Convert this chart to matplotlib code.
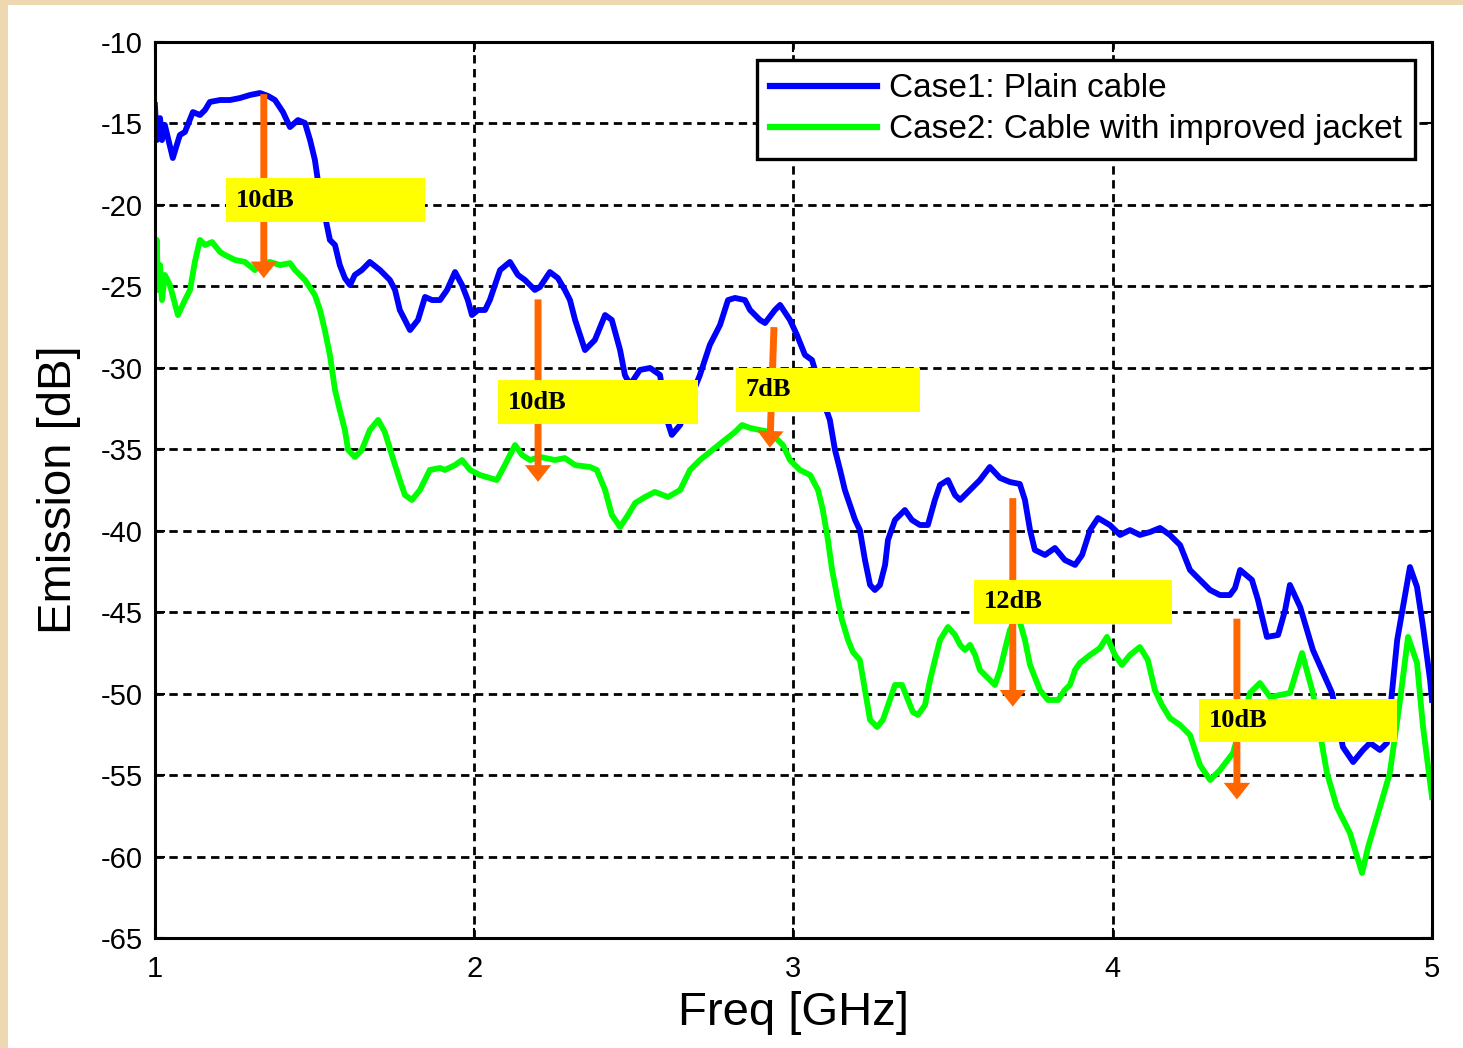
import matplotlib
matplotlib.use("Agg")
import matplotlib.pyplot as plt
from matplotlib.patches import Rectangle

# Case 1: plain cable
freq_plain = [1.000, 1.006, 1.016, 1.022, 1.031, 1.056, 1.078, 1.094, 1.119, 1.141,
              1.157, 1.172, 1.204, 1.235, 1.266, 1.298, 1.329, 1.354, 1.376, 1.401,
              1.423, 1.448, 1.470, 1.486, 1.501, 1.517, 1.532, 1.548, 1.564, 1.579,
              1.595, 1.611, 1.626, 1.648, 1.673, 1.705, 1.736, 1.752, 1.767, 1.799,
              1.824, 1.846, 1.868, 1.893, 1.915, 1.940, 1.962, 1.980, 1.993, 2.012,
              2.034, 2.049, 2.065, 2.081, 2.112, 2.137, 2.159, 2.190, 2.206, 2.237,
              2.262, 2.284, 2.300, 2.316, 2.347, 2.378, 2.410, 2.431, 2.457, 2.472,
              2.488, 2.519, 2.551, 2.582, 2.604, 2.619, 2.645, 2.676, 2.707, 2.738,
              2.770, 2.795, 2.817, 2.848, 2.864, 2.895, 2.911, 2.942, 2.958, 2.989,
              3.011, 3.036, 3.058, 3.077, 3.092, 3.114, 3.130, 3.146, 3.161, 3.177,
              3.193, 3.208, 3.224, 3.240, 3.255, 3.271, 3.287, 3.296, 3.318, 3.349,
              3.371, 3.396, 3.421, 3.443, 3.459, 3.484, 3.506, 3.522, 3.553, 3.584,
              3.615, 3.647, 3.678, 3.709, 3.725, 3.741, 3.756, 3.788, 3.819, 3.850,
              3.882, 3.904, 3.929, 3.954, 3.991, 4.023, 4.054, 4.085, 4.117, 4.148,
              4.179, 4.211, 4.242, 4.273, 4.305, 4.336, 4.367, 4.383, 4.399, 4.436,
              4.455, 4.483, 4.518, 4.540, 4.555, 4.587, 4.627, 4.659, 4.687, 4.721,
              4.753, 4.784, 4.806, 4.837, 4.859, 4.891, 4.922, 4.931, 4.953, 4.972,
              4.994, 5.000]
emis_plain = [-13.87, -16.02, -14.67, -16.02, -15.09, -17.12, -15.71, -15.52, -14.30, -14.48,
              -14.17, -13.68, -13.56, -13.56, -13.44, -13.25, -13.13, -13.31, -13.56, -14.30,
              -15.22, -14.79, -14.97, -16.02, -17.24, -19.39, -20.62, -22.15, -22.46, -23.69,
              -24.49, -24.92, -24.30, -24.00, -23.50, -24.00, -24.61, -25.22, -26.45, -27.68,
              -27.06, -25.65, -25.84, -25.84, -25.22, -24.12, -24.92, -25.84, -26.76, -26.45,
              -26.45, -25.84, -24.92, -24.00, -23.50, -24.30, -24.61, -25.22, -25.04, -24.12,
              -24.49, -25.22, -25.84, -27.06, -28.91, -28.29, -26.76, -27.06, -28.91, -30.44,
              -31.05, -30.13, -30.01, -30.44, -33.20, -34.12, -33.51, -31.98, -30.44, -28.60,
              -27.37, -25.84, -25.71, -25.84, -26.45, -27.06, -27.25, -26.45, -26.14, -27.06,
              -27.99, -29.21, -29.52, -30.75, -31.98, -33.20, -35.04, -36.27, -37.50, -38.42,
              -39.34, -39.96, -41.80, -43.33, -43.64, -43.33, -42.10, -40.57, -39.34, -38.73,
              -39.34, -39.65, -39.65, -38.11, -37.19, -36.89, -37.81, -38.11, -37.50, -36.89,
              -36.09, -36.76, -37.01, -37.13, -38.11, -39.96, -41.18, -41.49, -41.06, -41.80,
              -42.10, -41.49, -39.96, -39.22, -39.65, -40.26, -39.96, -40.26, -40.08, -39.83,
              -40.26, -40.88, -42.41, -43.02, -43.64, -43.95, -43.95, -43.52, -42.41, -43.02,
              -44.25, -46.52, -46.40, -44.87, -43.33, -44.68, -47.32, -48.73, -49.96, -53.28,
              -54.20, -53.46, -53.03, -53.46, -53.03, -46.71, -43.21, -42.23, -43.45, -45.91,
              -49.16, -50.39]

# Case 2: cable with improved jacket
freq_jacket = [1.000, 1.006, 1.009, 1.016, 1.022, 1.031, 1.047, 1.072, 1.094, 1.110,
               1.125, 1.141, 1.157, 1.179, 1.204, 1.219, 1.251, 1.282, 1.313, 1.329,
               1.360, 1.392, 1.423, 1.439, 1.470, 1.501, 1.517, 1.532, 1.548, 1.564,
               1.579, 1.595, 1.605, 1.626, 1.648, 1.673, 1.699, 1.720, 1.752, 1.767,
               1.783, 1.805, 1.830, 1.861, 1.893, 1.908, 1.940, 1.962, 1.987, 2.018,
               2.049, 2.071, 2.096, 2.128, 2.150, 2.175, 2.206, 2.253, 2.284, 2.316,
               2.363, 2.384, 2.410, 2.431, 2.457, 2.482, 2.504, 2.535, 2.566, 2.607,
               2.645, 2.676, 2.707, 2.754, 2.785, 2.817, 2.839, 2.864, 2.895, 2.926,
               2.967, 2.989, 3.020, 3.052, 3.077, 3.092, 3.108, 3.121, 3.139, 3.152,
               3.171, 3.186, 3.208, 3.224, 3.240, 3.262, 3.280, 3.302, 3.318, 3.340,
               3.359, 3.374, 3.390, 3.412, 3.428, 3.443, 3.459, 3.484, 3.506, 3.522,
               3.537, 3.553, 3.569, 3.584, 3.615, 3.631, 3.647, 3.662, 3.678, 3.703,
               3.725, 3.741, 3.772, 3.797, 3.829, 3.850, 3.866, 3.882, 3.897, 3.929,
               3.960, 3.982, 4.007, 4.029, 4.054, 4.085, 4.110, 4.132, 4.154, 4.179,
               4.211, 4.242, 4.273, 4.305, 4.336, 4.377, 4.430, 4.461, 4.493, 4.555,
               4.593, 4.627, 4.671, 4.702, 4.743, 4.781, 4.800, 4.837, 4.868, 4.900,
               4.925, 4.953, 4.972, 5.000]
emis_jacket = [-24.00, -22.15, -25.22, -23.69, -25.84, -24.30, -24.92, -26.76, -25.84, -25.22,
               -23.50, -22.15, -22.46, -22.28, -22.89, -23.07, -23.38, -23.50, -24.00, -23.69,
               -23.50, -23.69, -23.57, -24.00, -24.61, -25.53, -26.45, -27.68, -29.21, -31.36,
               -32.59, -33.82, -35.04, -35.47, -35.04, -33.82, -33.20, -33.94, -35.97, -36.89,
               -37.81, -38.11, -37.50, -36.27, -36.15, -36.27, -35.97, -35.66, -36.27, -36.58,
               -36.76, -36.89, -35.97, -34.74, -35.35, -35.66, -35.47, -35.66, -35.54, -35.97,
               -36.09, -36.27, -37.50, -39.03, -39.77, -39.03, -38.30, -37.93, -37.62, -37.93,
               -37.50, -36.27, -35.66, -34.92, -34.43, -33.94, -33.51, -33.69, -33.82, -33.94,
               -34.74, -35.66, -36.27, -36.58, -37.50, -38.73, -40.57, -42.41, -44.25, -45.48,
               -46.71, -47.44, -47.94, -49.78, -51.62, -52.05, -51.62, -50.39, -49.47, -49.47,
               -50.39, -51.13, -51.31, -50.70, -49.16, -47.94, -46.71, -45.91, -46.40, -47.01,
               -47.32, -47.01, -47.63, -48.55, -49.16, -49.47, -48.55, -47.32, -46.09, -45.17,
               -46.71, -48.24, -49.78, -50.39, -50.39, -49.78, -49.47, -48.55, -48.12, -47.63,
               -47.20, -46.52, -47.63, -48.24, -47.63, -47.14, -47.94, -49.78, -50.70, -51.50,
               -51.93, -52.54, -54.38, -55.30, -54.69, -53.64, -49.96, -49.35, -50.21, -49.96,
               -47.51, -49.96, -54.87, -56.96, -58.56, -61.01, -59.41, -56.96, -54.87, -50.39,
               -46.52, -48.12, -52.05, -56.35]

# reduction callouts: label, arrow frequency, arrow start / tip (dB)
note_labels = ["10dB", "10dB", "7dB", "12dB", "10dB"]
note_freq_top = [1.341, 2.200, 2.939, 3.687, 4.389]
note_freq_tip = [1.341, 2.200, 2.926, 3.687, 4.389]
note_db_top = [-13.2, -25.8, -27.5, -38.0, -45.4]
note_db_tip = [-24.5, -37.0, -34.9, -50.8, -56.5]
# yellow label boxes: left, right, top, bottom
box_left = [1.222, 2.074, 2.820, 3.565, 4.270]
box_right = [1.846, 2.701, 3.396, 4.186, 4.890]
box_top = [-18.35, -30.75, -30.00, -43.00, -50.30]
box_bottom = [-21.05, -33.45, -32.70, -45.70, -53.00]

xticks = [1, 2, 3, 4, 5]
yticks = list(range(-65, -9, 5))

plt.rcParams["font.family"] = ["Liberation Sans", "DejaVu Sans"]
plt.rcParams["axes.unicode_minus"] = False

fig = plt.figure(figsize=(14.63, 10.48), dpi=100, facecolor="white")
ax = fig.add_axes([0.1059, 0.1050, 0.8729, 0.8549])

# textured slide border peeking in at the left and top
fig.patches.append(Rectangle((0, 0), 8 / 1463, 1, transform=fig.transFigure,
                             facecolor="#EDD8B2", edgecolor="none", zorder=-1))
fig.patches.append(Rectangle((0, 1 - 5 / 1048), 1, 5 / 1048, transform=fig.transFigure,
                             facecolor="#EDD8B2", edgecolor="none", zorder=-1))

ax.plot(freq_plain, emis_plain, color="#0000FF", lw=4.2, label="Case1: Plain cable",
        solid_joinstyle="round", zorder=3)
ax.plot(freq_jacket, emis_jacket, color="#00FF00", lw=4.2,
        label="Case2: Cable with improved jacket", solid_joinstyle="round", zorder=3)

for i in range(len(note_labels)):
    ax.annotate("", xy=(note_freq_tip[i], note_db_tip[i]),
                xytext=(note_freq_top[i], note_db_top[i]),
                arrowprops=dict(width=5, headwidth=19, headlength=12, shrink=0,
                                color="#FF6600", linewidth=0),
                zorder=4)
    ax.add_patch(Rectangle((box_left[i], box_bottom[i]), box_right[i] - box_left[i],
                           box_top[i] - box_bottom[i], facecolor="#FFFF00",
                           edgecolor="none", zorder=5))
    ax.text(box_left[i] + 0.03, (box_top[i] + box_bottom[i]) / 2, note_labels[i],
            family=["Liberation Serif", "DejaVu Serif"], fontweight="bold", fontsize=19,
            ha="left", va="center", zorder=6)

ax.set_xlim(1, 5)
ax.set_ylim(-65, -10)
ax.set_xticks(xticks)
ax.set_yticks(yticks)
ax.grid(True, color="black", linestyle=(0, (3, 2)), linewidth=2)
ax.set_axisbelow(True)
for s in ax.spines.values():
    s.set_linewidth(2.2)
    s.set_zorder(7)
ax.tick_params(direction="in", length=7, width=1.5, labelsize=21, top=True, right=True)
ax.tick_params(axis="y", pad=9)
ax.tick_params(axis="x", pad=12)

ax.set_xlabel("Freq [GHz]", fontsize=34, labelpad=6)
ax.set_ylabel("Emission [dB]", fontsize=34, labelpad=14)

leg = ax.legend(loc="upper right", bbox_to_anchor=(0.9867, 0.9799), borderaxespad=0,
                fontsize=24, handlelength=3.2, handletextpad=0.35, labelspacing=0.3,
                fancybox=False, framealpha=1, edgecolor="black", borderpad=0.4)
leg.get_frame().set_linewidth(2.4)
for h in leg.legend_handles:
    h.set_linewidth(4.5)
leg.set_zorder(8)

fig.savefig("out.png", dpi=100, facecolor=fig.get_facecolor())
